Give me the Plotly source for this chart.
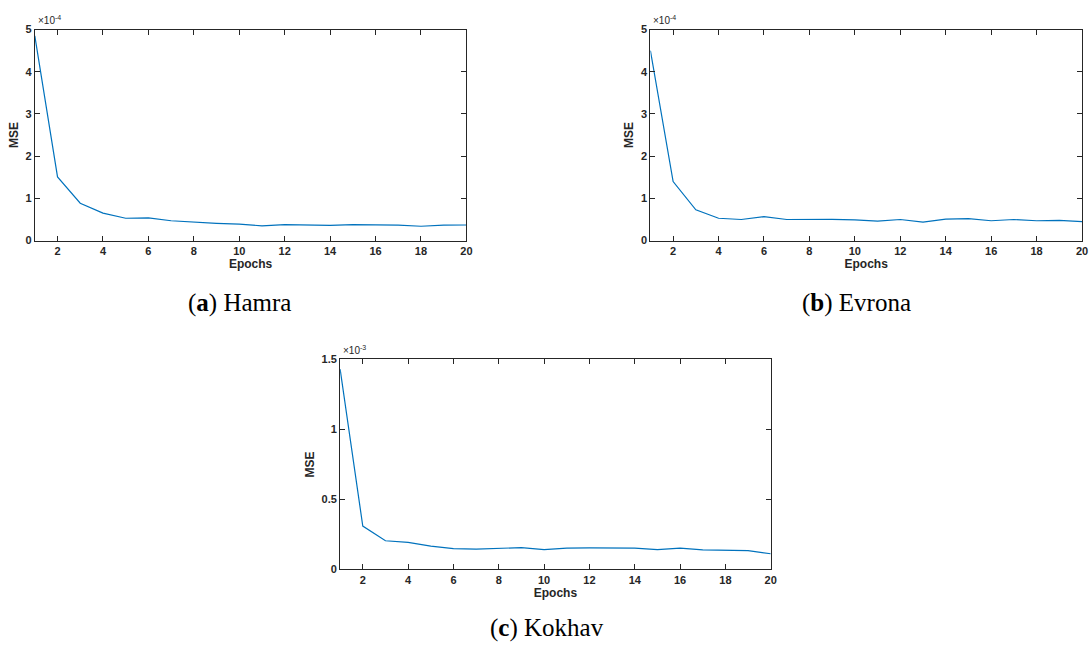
import plotly.graph_objects as go

epochs = list(range(1, 21))

hamra_mse = [4.85e-4, 1.51e-4, 0.885e-4, 0.65e-4, 0.53e-4, 0.54e-4, 0.47e-4, 0.435e-4, 0.41e-4, 0.39e-4,
             0.35e-4, 0.38e-4, 0.365e-4, 0.36e-4, 0.38e-4, 0.38e-4, 0.365e-4, 0.34e-4, 0.365e-4, 0.37e-4]
evrona_mse = [4.5e-4, 1.40e-4, 0.73e-4, 0.53e-4, 0.50e-4, 0.57e-4, 0.50e-4, 0.51e-4, 0.505e-4, 0.49e-4,
              0.46e-4, 0.50e-4, 0.44e-4, 0.51e-4, 0.52e-4, 0.47e-4, 0.50e-4, 0.47e-4, 0.48e-4, 0.45e-4]
kokhav_mse = [1.43e-3, 0.31e-3, 0.205e-3, 0.194e-3, 0.166e-3, 0.149e-3, 0.145e-3, 0.152e-3, 0.156e-3, 0.142e-3,
              0.152e-3, 0.154e-3, 0.152e-3, 0.152e-3, 0.142e-3, 0.152e-3, 0.14e-3, 0.14e-3, 0.135e-3, 0.112e-3]

x_tickvals = [2, 4, 6, 8, 10, 12, 14, 16, 18, 20]
y_tick_ab = [0, 1e-4, 2e-4, 3e-4, 4e-4, 5e-4]
y_text_ab = ["0", "1", "2", "3", "4", "5"]
y_tick_c = [0, 0.5e-3, 1e-3, 1.5e-3]
y_text_c = ["0", "0.5", "1", "1.5"]

captions = [("a", "Hamra"), ("b", "Evrona"), ("c", "Kokhav")]
exponents = ["-4", "-4", "-3"]

W, H = 1092, 653
def fx(px): return px / W
def fy(py): return 1 - py / H

# pixel boxes (left, right, top, bottom)
boxes = [(35, 469, 24, 239), (654, 1088, 24, 239), (342, 775, 360, 574)]
caption_pos = [(241, 303), (861, 303), (550, 634)]

line_color = "#0072BD"
ax_color = "#262626"
sans = "Liberation Sans, Arial, sans-serif"
font_ax = dict(family=sans, size=11, color=ax_color, weight="bold")
font_title = dict(family=sans, size=12, color=ax_color, weight="bold")

fig = go.Figure()
series = [hamra_mse, evrona_mse, kokhav_mse]
yranges = [[0, 5e-4], [0, 5e-4], [0, 1.5e-3]]
ytv = [y_tick_ab, y_tick_ab, y_tick_c]
ytt = [y_text_ab, y_text_ab, y_text_c]

for i, (vals, box) in enumerate(zip(series, boxes)):
    n = "" if i == 0 else str(i + 1)
    fig.add_trace(go.Scatter(x=epochs, y=vals, mode="lines",
                             line=dict(color=line_color, width=1.2),
                             xaxis="x" + n, yaxis="y" + n, showlegend=False))
    l, r, t, b = box
    common = dict(showline=True, linecolor=ax_color, linewidth=1, mirror="ticks",
                  ticks="inside", ticklen=5, tickcolor=ax_color, tickwidth=1,
                  showgrid=False, zeroline=False, tickfont=font_ax)
    fig.update_layout(**{
        "xaxis" + n: dict(domain=[fx(l), fx(r)], range=[1, 20], tickvals=x_tickvals,
                          anchor="y" + n,
                          title=dict(text="Epochs", font=font_title, standoff=2),
                          **common),
        "yaxis" + n: dict(domain=[fy(b), fy(t)], range=yranges[i], tickvals=ytv[i], ticktext=ytt[i],
                          anchor="x" + n,
                          title=dict(text="MSE", font=font_title, standoff=4),
                          **common),
    })
    fig.add_annotation(x=fx(l) + 0.001, y=fy(t) + 0.002, xref="paper", yref="paper",
                       xanchor="left", yanchor="bottom", showarrow=False,
                       text="×10<sup>" + exponents[i] + "</sup>",
                       font=dict(family=sans, size=10, color=ax_color))
    letter, name = captions[i]
    cx, cy = caption_pos[i]
    fig.add_annotation(x=fx(cx), y=fy(cy), xref="paper", yref="paper",
                       xanchor="center", yanchor="middle", showarrow=False,
                       text="(<b>" + letter + "</b>) " + name,
                       font=dict(family="Liberation Serif, Times New Roman, serif", size=25, color="#000000"))

fig.update_layout(width=W, height=H, margin=dict(l=0, r=0, t=0, b=0),
                  paper_bgcolor="white", plot_bgcolor="white")

fig.write_html("out.html", config={"displayModeBar": False},
               post_script="document.body.style.margin='0';document.body.style.overflow='hidden';")
